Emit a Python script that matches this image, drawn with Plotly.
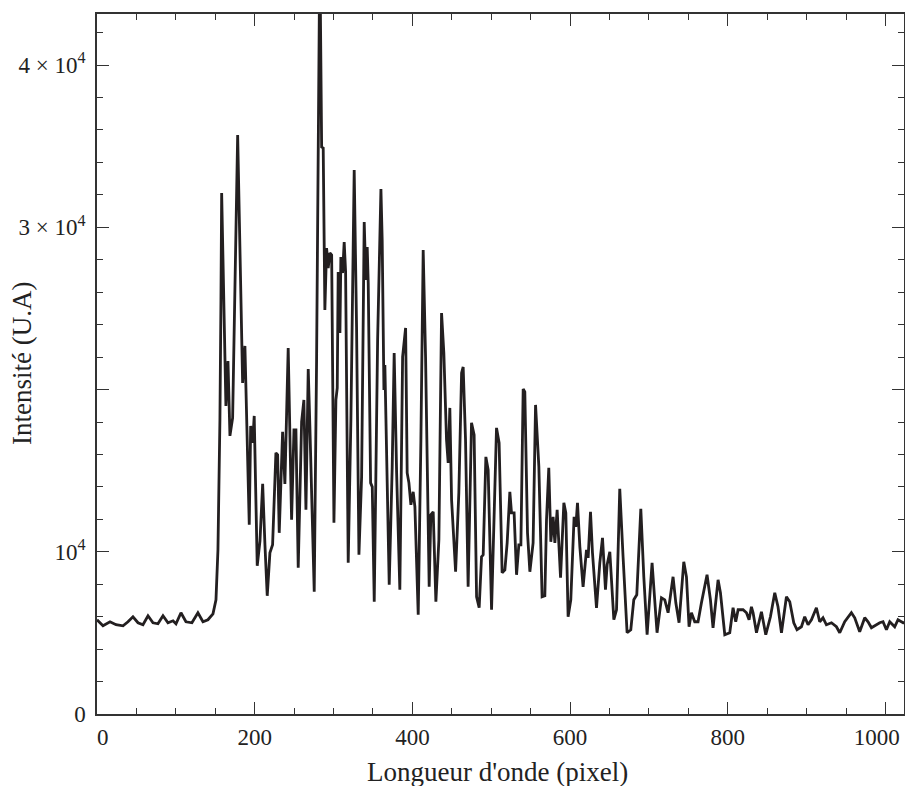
import plotly.graph_objects as go

# Spectre : position (pixel) et intensité (U.A)
pixel = [
    0, 7.6, 16.5, 24.1, 33, 39.3, 45.6, 52, 58.3, 64.7, 71, 77.3, 83.7, 90, 96.4,
    100.2, 106.5, 112.8, 120.4, 128, 134.4, 140.7, 147.1, 150.9, 153.4, 155.9,
    157.2, 158.1, 163.5, 166.1, 168.6, 172, 178.4, 182.2, 184.7, 187.6, 193.1,
    194.9, 197.4, 199.4, 203.2, 206.7, 210.1, 213, 215.9, 219.3, 222.7, 226.9,
    229.1, 231.1, 235.4, 238.3, 242.5, 246.8, 249.8, 252.3, 255.2, 259.5, 262.4,
    265, 267.9, 270, 275.5, 278.5, 282, 283.3, 284.9, 286.9, 289, 291.2, 293.2,
    295.4, 297.6, 300.5, 303, 304.7, 305.9, 308.1, 309.3, 311.5, 313.5, 315.3,
    318.6, 322, 326.2, 329.2, 332.2, 335.6, 338.9, 341, 342.7, 344, 347, 349.1,
    351.6, 355.9, 360.1, 361.7, 363.9, 365.1, 367.3, 370.6, 374.4, 376.9, 380,
    384.1, 387.6, 391.4, 393.4, 395.6, 398.1, 401, 403.2, 407.4, 410.8, 413.7,
    416.7, 419.3, 421.3, 423.4, 426.4, 429.8, 433.6, 437, 439.9, 443.3, 445.4,
    447.5, 449.7, 454.8, 458.9, 462.4, 464.4, 467.4, 470.7, 475, 478.3, 481.4,
    484.7, 487.7, 489.8, 493.2, 496.1, 500.4, 506.7, 510, 513.8, 517.3, 520.2,
    523.6, 525.7, 529, 532.1, 535, 537.6, 540.5, 542.6, 546, 549, 553.1, 556.2,
    560.4, 564.5, 568, 570.1, 573, 575.6, 578.5, 580.7, 583.6, 587.9, 592.1,
    594.6, 597.5, 600.9, 605.1, 607.3, 609.4, 612.4, 616.5, 620.8, 622.9, 625.9,
    628.4, 633.5, 637.7, 641.1, 644.9, 647, 650.4, 655.5, 658.9, 663, 667.2,
    672.3, 677, 680.8, 684.6, 689.7, 693.5, 697.7, 704, 710.3, 715.9, 720.1,
    724.3, 730.6, 734.1, 738.2, 744.2, 747.6, 750.9, 753.9, 758.1, 762.3, 766.6,
    773.7, 778, 781.3, 787.7, 790.7, 796.2, 802.5, 806.7, 810.1, 813.1, 819.4,
    823.7, 827, 830, 832.1, 836.4, 842.7, 848.2, 854.1, 859.6, 863.7, 868.1,
    874.4, 878.6, 883.7, 887.8, 893.4, 897.6, 901.8, 906.1, 912.4, 916.6, 920.8,
    925.1, 931.5, 937.8, 942, 948.3, 956.8, 961, 967.3, 973.7, 977.9, 982.2,
    988.5, 992.7, 996.9, 1001.2, 1005.4, 1011.7, 1015.9, 1022.2, 1023.5,
]
intensite = [
    5809, 5439, 5686, 5501, 5439, 5686, 5994, 5624, 5501, 6055, 5624, 5562, 6055,
    5624, 5747, 5562, 6240, 5686, 5624, 6240, 5686, 5809, 6178, 7041, 10121,
    18129, 25521, 32112, 18991, 21763, 17143, 18252, 35685, 24843, 20408, 22687,
    11661, 17759, 16712, 18375, 9135, 10675, 14186, 10429, 7287, 9936, 10429,
    16096, 15973, 11168, 17390, 14186, 22564, 11969, 17513, 17513, 9012, 18006,
    19361, 12585, 21270, 17698, 7534, 21825, 43500, 43500, 34946, 34884, 24905,
    28724, 27492, 28416, 28293, 11784, 19361, 20100, 27246, 23488, 28170, 27184,
    29094, 27246, 9320, 18129, 33529, 23858, 9813, 14618, 30326, 26753, 28786,
    26568, 14248, 14000, 6918, 23057, 32358, 29217, 19977, 21517, 15850, 7965,
    15234, 22256, 14864, 7657, 22010, 23796, 14864, 14248, 12893, 13694, 12770,
    6117, 16897, 28601, 22010, 14864, 7842, 12277, 12462, 6918, 10737, 24720,
    22256, 16897, 15480, 18868, 13201, 8766, 13632, 21024, 21394, 16897, 7842,
    17944, 17205, 7226, 6548, 9690, 9813, 15850, 15049, 6425, 17636, 16712, 8704,
    8889, 10552, 13694, 12400, 12400, 8581, 10429, 10429, 20038, 19853, 11168,
    8766, 10552, 19053, 15234, 7226, 7287, 11969, 15172, 10614, 12154, 10552,
    12585, 8396, 13016, 12400, 5994, 7041, 12154, 11538, 13016, 10306, 7842,
    10121, 9628, 12462, 9936, 6548, 9320, 10860, 7657, 9197, 9998, 5809, 6425,
    13878, 9690, 5008, 5193, 7041, 7349, 12646, 8458, 4885, 9320, 5008, 7164,
    7041, 6240, 8458, 6856, 5624, 9382, 8458, 5378, 6240, 5686, 5686, 6856, 8581,
    7041, 5316, 8273, 7472, 4885, 5008, 6548, 5686, 6425, 6425, 6240, 5809, 6610,
    6240, 5008, 6302, 4885, 5994, 7472, 6610, 5008, 7226, 6918, 5624, 5193, 5378,
    5994, 5501, 5809, 6548, 5686, 5932, 5501, 5624, 5378, 5008, 5686, 6240, 5932,
    5070, 5932, 5686, 5316, 5501, 5624, 5686, 5193, 5686, 5378, 5809, 5624, 5700,
]

x_ticks = [0, 200, 400, 600, 800, 1000]
# end labels are nudged inwards, as in the original figure
x_tick_labels = ["\u00a0\u00a00", "200", "400", "600", "800", "1000\u00a0\u00a0\u00a0"]
y_ticks = [0, 10000, 20000, 30000, 40000]
y_tick_labels = ["0", "10<sup>4</sup>", "", "3 × 10<sup>4</sup>", "4 × 10<sup>4</sup>"]

serif = "Liberation Serif, Times New Roman, serif"
axis_color = "#333333"
text_color = "#222222"

fig = go.Figure()
fig.add_trace(go.Scatter(
    x=pixel,
    y=intensite,
    mode="lines",
    line=dict(color="#231f20", width=2.8),
    showlegend=False,
))

axis_common = dict(
    showgrid=False,
    zeroline=False,
    showline=True,
    linecolor=axis_color,
    linewidth=1.5,
    mirror="ticks",
    ticks="inside",
    ticklen=12,
    tickwidth=1.2,
    tickcolor=axis_color,
    automargin=False,
    ticklabeloverflow="allow",
    tickfont=dict(family=serif, size=23, color=text_color),
)

fig.update_xaxes(
    **axis_common,
    range=[0, 1023.5],
    tickmode="array",
    tickvals=x_ticks,
    ticktext=x_tick_labels,
    ticklabelstandoff=2,
    minor=dict(ticks="inside", ticklen=6, dtick=50, tick0=0,
               tickcolor=axis_color, tickwidth=1.2),
)
fig.update_yaxes(
    **axis_common,
    range=[0, 43150],
    tickmode="array",
    tickvals=y_ticks,
    ticktext=y_tick_labels,
    ticklabelstandoff=5,
    minor=dict(ticks="inside", ticklen=6, dtick=2000, tick0=0,
               tickcolor=axis_color, tickwidth=1.2),
)

# axis titles placed as annotations
fig.add_annotation(
    text="Longueur d'onde (pixel)", xref="paper", yref="paper",
    x=0.5, y=0, xanchor="center", yanchor="middle", yshift=-58, xshift=-3,
    showarrow=False, font=dict(family=serif, size=27, color=text_color),
)
fig.add_annotation(
    text="Intensité (U.A)", xref="paper", yref="paper",
    x=0, y=0.5, xanchor="center", yanchor="middle", xshift=-75,
    textangle=-90, showarrow=False,
    font=dict(family=serif, size=27, color=text_color),
)

fig.update_layout(
    width=905,
    height=786,
    margin=dict(l=97, r=1, t=14, b=72),
    paper_bgcolor="white",
    plot_bgcolor="white",
)

# drop the page's default body margin so the figure fills the window
fig.write_html(
    "out.html",
    config={"displayModeBar": False},
    post_script="document.body.style.margin='0';document.body.style.overflow='hidden';",
)
